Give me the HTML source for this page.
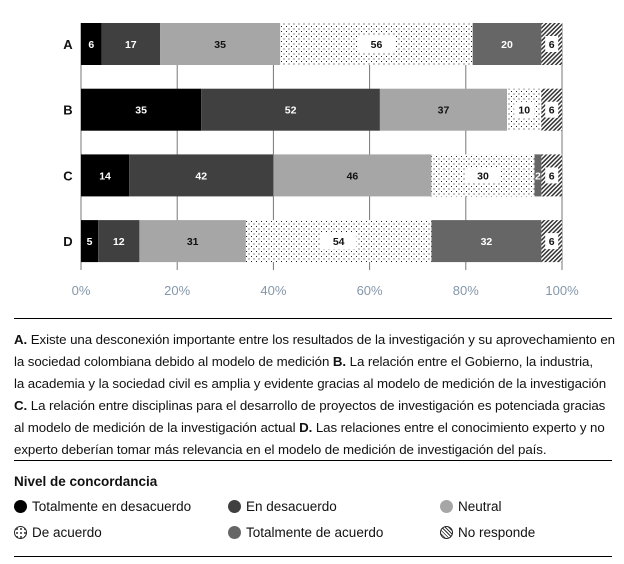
<!DOCTYPE html>
<html><head><meta charset="utf-8"><style>
body{margin:0;width:624px;height:564px;background:#fff;font-family:"Liberation Sans",sans-serif;overflow:hidden;position:relative}
.cap{position:absolute;left:14px;top:329px;width:610px;font-size:13.3px;line-height:22px;color:#111;letter-spacing:-0.08px;white-space:nowrap}
.hr{position:absolute;left:14px;width:598px;height:1px;background:#000}
.leg{position:absolute;font-size:13.5px;color:#111}
.dot{display:inline-block;width:13px;height:13px;border-radius:50%;vertical-align:-2px;margin-right:5px;box-sizing:border-box}
</style></head><body>
<svg id="chart" width="624" height="310" style="position:absolute;left:0;top:0">
<defs>
<pattern id="dots" width="5" height="5" patternUnits="userSpaceOnUse"><rect width="5" height="5" fill="#fff"/><rect x="1" y="1" width="1" height="1" fill="#222"/><rect x="3.5" y="3.5" width="1" height="1" fill="#222"/></pattern>
<pattern id="hatch" width="3" height="3" patternUnits="userSpaceOnUse" patternTransform="rotate(45)"><rect width="3" height="3" fill="#fff"/><rect width="1.5" height="3" fill="#333"/></pattern>
</defs>
<g id="grid"></g><g id="bars"></g><g id="axis"></g>
</svg>
<script>
const categories=["A","B","C","D"];
const seriesNames=["Totalmente en desacuerdo","En desacuerdo","Neutral","De acuerdo","Totalmente de acuerdo","No responde"];
const s1=[6,35,14,5];
const s2=[17,52,42,12];
const s3=[35,37,46,31];
const s4=[56,10,30,54];
const s5=[20,0,2,32];
const s6=[6,6,6,6];
const ticks=[0,20,40,60,80,100];
const series=[s1,s2,s3,s4,s5,s6];
const fills=["#000","#404040","#a6a6a6","url(#dots)","#666","url(#hatch)"];
const txtCol=["#fff","#fff","#111","#111","#fff","#111"];
const boxed=[false,false,false,true,false,true];
const NS="http://www.w3.org/2000/svg";
const x0=81,x1=562;
const xs=p=>x0+(x1-x0)*p/100;
const yTop=i=>23+i*65.7, bh=42;
function mk(t,a,p){const e=document.createElementNS(NS,t);for(const k in a)e.setAttribute(k,a[k]);p.appendChild(e);return e;}
const grid=document.getElementById('grid'),bars=document.getElementById('bars'),axis=document.getElementById('axis');
ticks.forEach(t=>{
 const l=mk('line',{x1:xs(t),x2:xs(t),y1:23,y2:270,stroke:'#777','stroke-width':1},grid);
 
 
 const tx=mk('text',{x:xs(t),y:295,'text-anchor':'middle','font-size':13,fill:'#8497aa'},axis);
 tx.textContent=t+'%';
 
 
});
categories.forEach((c,i)=>{
 const lab=mk('text',{x:68,y:yTop(i)+bh/2+5,'text-anchor':'middle','font-size':13,'font-weight':'bold',fill:'#111'},axis);
 lab.textContent=c;
 
 
 const total=series.reduce((s,a)=>s+a[i],0);
 let acc=0;
 series.forEach((a,k)=>{
  const v=a[i]; if(!v)return;
  const xa=xs(acc/total*100),xb=xs((acc+v)/total*100);acc+=v;
  const r=mk('rect',{x:xa,y:yTop(i),width:xb-xa,height:bh,fill:fills[k]},bars);
  
  
  const cx=(xa+xb)/2,cy=yTop(i)+bh/2;
  const w=String(v).length*7+6;
  if(boxed[k]){mk('rect',{x:cx-w/2-(k==3&&v>20?8:0),y:cy-8,width:w+(k==3&&v>20?16:0),height:16,fill:'#fff'},bars);}
  const t=mk('text',{x:cx,y:cy+4,'text-anchor':'middle','font-size':10.5,'font-weight':'bold',fill:txtCol[k]},bars);
  t.textContent=v;
  
  
 });
});
</script>
<div class="hr" style="top:318px"></div>
<div class="cap"><b>A.</b> Existe una desconexión importante entre los resultados de la investigación y su aprovechamiento en<br>la sociedad colombiana debido al modelo de medición <b>B.</b> La relación entre el Gobierno, la industria,<br>la academia y la sociedad civil es amplia y evidente gracias al modelo de medición de la investigación<br><b>C.</b> La relación entre disciplinas para el desarrollo de proyectos de investigación es potenciada gracias<br>al modelo de medición de la investigación actual <b>D.</b> Las relaciones entre el conocimiento experto y no<br>experto deberían tomar más relevancia en el modelo de medición de investigación del país.</div>
<div class="hr" style="top:460px"></div>
<div class="leg" style="left:14px;top:474px;font-weight:bold">Nivel de concordancia</div>
<div class="leg" style="left:14px;top:499px"><span class="dot" style="background:#000"></span>Totalmente en desacuerdo</div>
<div class="leg" style="left:228px;top:499px"><span class="dot" style="background:#404040"></span>En desacuerdo</div>
<div class="leg" style="left:440px;top:499px"><span class="dot" style="background:#a6a6a6"></span>Neutral</div>
<div class="leg" style="left:14px;top:525px"><span class="dot" style="border:1px solid #222;background:radial-gradient(circle,#555 1px,transparent 1.2px) 0 0/4px 4px #fff"></span>De acuerdo</div>
<div class="leg" style="left:228px;top:525px"><span class="dot" style="background:#666"></span>Totalmente de acuerdo</div>
<div class="leg" style="left:440px;top:525px"><span class="dot" style="border:1px solid #222;background:repeating-linear-gradient(45deg,#333 0 1px,#fff 1px 2.5px)"></span>No responde</div>
<div class="hr" style="top:556px"></div>
</body></html>
